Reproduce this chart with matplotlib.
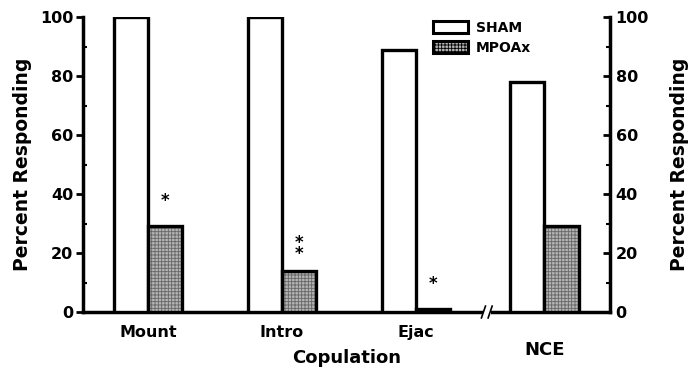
import matplotlib
matplotlib.use("Agg")
import matplotlib.pyplot as plt
import numpy as np
from matplotlib.patches import Patch
from matplotlib.ticker import MultipleLocator
import matplotlib.transforms as mtransforms

categories = ["Mount", "Intro", "Ejac", "NCE"]
sham = [100, 100, 89, 78]
mpoax = [29, 14, 1, 29]
stars = ["*", "*\n*", "*", ""]
positions = [0.0, 1.0, 2.0, 2.96]
yticks = [0, 20, 40, 60, 80, 100]

plt.rcParams['font.family'] = ['DejaVu Sans']
plt.rcParams['font.weight'] = 'bold'
plt.rcParams['hatch.color'] = '#555555'
plt.rcParams['hatch.linewidth'] = 0.6

fig = plt.figure(figsize=(6.92, 3.71), dpi=100)
ax = fig.add_axes([0.12, 0.159, 0.7615, 0.795])

w = 0.255
x = np.array(positions)
ax.bar(x - w/2, sham, width=w, facecolor='white', edgecolor='black', linewidth=2.4, zorder=3)
ax.bar(x + w/2, mpoax, width=w, facecolor='#b4b4b4', edgecolor='#666666', hatch='+++++', linewidth=0, zorder=3)
ax.bar(x + w/2, mpoax, width=w, facecolor='none', edgecolor='black', linewidth=2.4, zorder=4)

for xi, v, s in zip(x, mpoax, stars):
    if s:
        off = 2.5 if "\n" in s else 5.5
        ax.text(xi + w/2, v + off, s, ha='center', va='bottom', fontsize=12, linespacing=0.55)

ax.set_xlim(-0.485, 3.45)
ax.set_ylim(0, 100)
ax.set_yticks(yticks)
ax.yaxis.set_minor_locator(MultipleLocator(10))
ax.tick_params(axis='y', which='major', direction='out', length=5, width=2, labelsize=11.5, pad=2)
ax.tick_params(axis='y', which='minor', direction='in', length=3, width=1.5)
ax.set_xticks(x[:3])
ax.set_xticklabels(categories[:3], fontsize=11.5, fontweight='bold')
ax.tick_params(axis='x', length=0, pad=9)
ax.text(x[3], -0.097, categories[3], transform=mtransforms.blended_transform_factory(ax.transData, ax.transAxes),
        ha='center', va='top', fontsize=13, fontweight='bold')
ax.set_xlabel("Copulation", fontsize=13, fontweight='bold', labelpad=7)
ax.set_ylabel("Percent Responding", fontsize=13.5, fontweight='bold', labelpad=6)
for t in ax.get_yticklabels():
    t.set_fontweight('bold')

ax.spines['top'].set_visible(False)
ax.spines['right'].set_visible(False)
ax.spines['left'].set_linewidth(2.5)
ax.spines['bottom'].set_linewidth(2.5)

ax2 = ax.twinx()
ax2.set_ylim(0, 100)
ax2.set_yticks(yticks)
ax2.yaxis.set_minor_locator(MultipleLocator(10))
ax2.tick_params(axis='y', which='major', direction='in', length=5, width=2, labelsize=11.5, pad=4)
ax2.tick_params(axis='y', which='minor', direction='in', length=3, width=1.5)
for t in ax2.get_yticklabels():
    t.set_fontweight('bold')
ax2.set_ylabel("Percent Responding", fontsize=13.5, fontweight='bold', rotation=90, labelpad=15)
ax2.yaxis.set_label_position('right')
for s in ['top', 'left', 'bottom']:
    ax2.spines[s].set_visible(False)
ax2.spines['right'].set_linewidth(2.5)

# axis break marks on x-axis
bx = (x[2] + x[3]) / 2 + 0.05
trans = mtransforms.blended_transform_factory(ax.transData, ax.transAxes)
ax.add_patch(plt.Rectangle((bx - 0.03, -0.02), 0.06, 0.04, transform=trans, facecolor='white', edgecolor='none', zorder=5, clip_on=False))
for dx in (-0.025, 0.025):
    ax.plot([bx + dx - 0.015, bx + dx + 0.015], [-0.02, 0.02], transform=trans, color='black', lw=1.2, zorder=6, clip_on=False)

handles = [Patch(facecolor='white', edgecolor='black', linewidth=2.2),
           Patch(facecolor='#b4b4b4', edgecolor='black', linewidth=2.2, hatch='+++++')]
leg = ax.legend(handles, ["SHAM", "MPOAx"], loc='upper left', bbox_to_anchor=(0.64, 1.03),
                frameon=False, handlelength=2.5, handleheight=0.9,
                prop={'weight': 'bold', 'size': 10}, labelspacing=0.45, handletextpad=0.6)

fig.savefig("out.png", dpi=100)
